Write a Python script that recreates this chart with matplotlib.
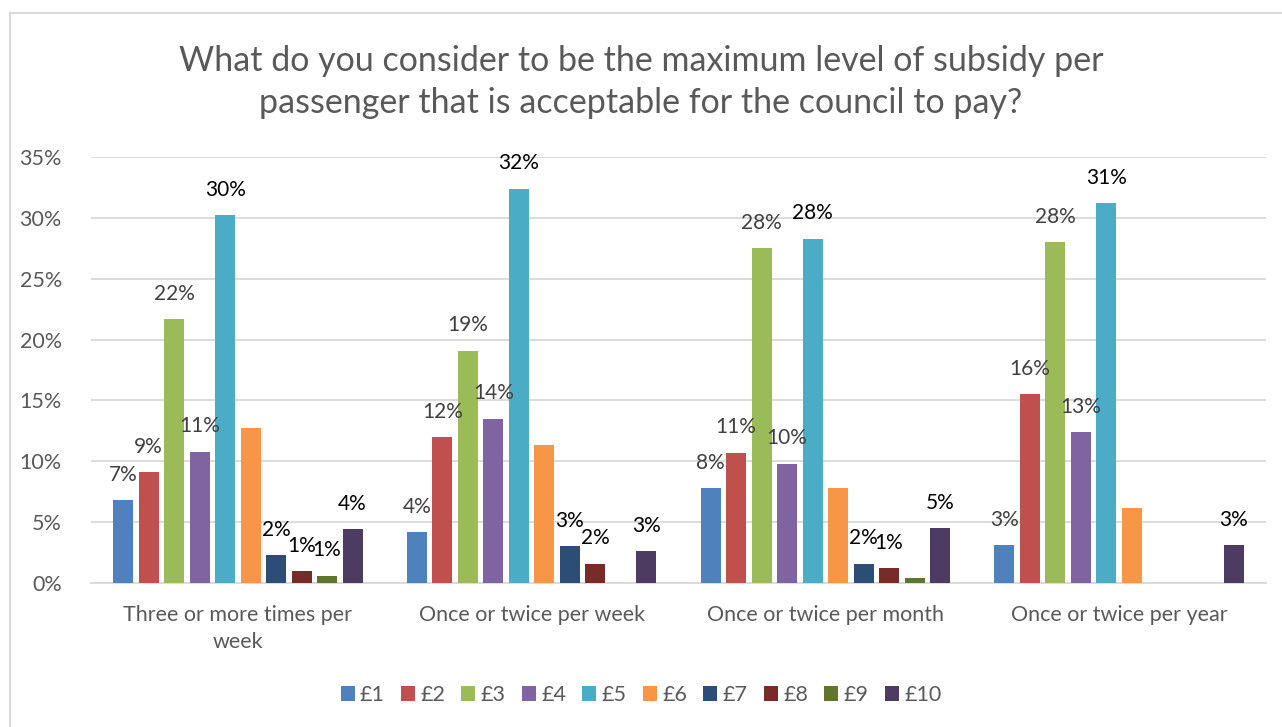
import numpy as np
import matplotlib.pyplot as plt
from matplotlib.lines import Line2D

plt.rcParams['font.family'] = ['Lato', 'DejaVu Sans']

#data
categories = ["Three or more times per\nweek", "Once or twice per week",
              "Once or twice per month", "Once or twice per year"]
series = ["£1", "£2", "£3", "£4", "£5", "£6", "£7", "£8", "£9", "£10"]
colors = ["#4f81bd", "#c0504d", "#9bbb59", "#8064a2", "#4bacc6",
          "#f79646", "#2c4d75", "#772c2a", "#5f7530", "#4d3b62"]

values = [  # one row per series, one column per category (%)
    [6.8, 4.2, 7.8, 3.1],
    [9.1, 12.0, 10.7, 15.5],
    [21.7, 19.1, 27.5, 28.0],
    [10.8, 13.5, 9.8, 12.4],
    [30.2, 32.4, 28.3, 31.2],
    [12.7, 11.3, 7.8, 6.2],
    [2.3, 3.0, 1.6, 0.0],
    [1.0, 1.6, 1.2, 0.0],
    [0.6, 0.0, 0.4, 0.0],
    [4.4, 2.6, 4.5, 3.1],
]
labels = [
    ["7%", "4%", "8%", "3%"],
    ["9%", "12%", "11%", "16%"],
    ["22%", "19%", "28%", "28%"],
    ["11%", "14%", "10%", "13%"],
    ["30%", "32%", "28%", "31%"],
    ["", "", "", ""],
    ["2%", "3%", "2%", ""],
    ["1%", "2%", "1%", ""],
    ["1%", "", "", ""],
    ["4%", "3%", "5%", "3%"],
]
label_dark = [False, False, False, False, True, True, True, True, True, True]

fig = plt.figure(figsize=(12.82, 7.27), dpi=100)
ax = fig.add_axes([91/1282, 1-583/727, (1266-91)/1282, (583-157)/727])

x = np.arange(len(categories))
slot = 0.0868
width = 0.068
for i, s in enumerate(series):
    pos = x + (i - 4.5) * slot
    ax.bar(pos, values[i], width, color=colors[i], label=s, zorder=3)
    for j in range(len(categories)):
        if labels[i][j]:
            ax.annotate(labels[i][j], (pos[j], values[i][j]), xytext=(0, 11),
                        textcoords="offset points", ha="center", va="bottom",
                        fontsize=15, color="#000000" if label_dark[i] else "#404040",
                        zorder=4)

ax.set_xlim(-0.5, 3.5)
ax.set_ylim(0, 35)
ax.set_yticks(np.arange(0, 36, 5))
ax.set_yticklabels([f"{v}%" for v in range(0, 36, 5)])
ax.set_xticks(x)
ax.set_xticklabels(categories, linespacing=1.45)
ax.tick_params(axis="both", length=0, labelsize=15.5, labelcolor="#595959")
ax.tick_params(axis="y", pad=21)
ax.tick_params(axis="x", pad=16)
ax.grid(axis="y", color="#d9d9d9", linewidth=1.3, zorder=0)
for sp in ["top", "right", "left"]:
    ax.spines[sp].set_visible(False)
ax.spines["bottom"].set_color("#d9d9d9")
ax.spines["bottom"].set_linewidth(1.3)

fig.text(0.5, 1-82/727, "What do you consider to be the maximum level of subsidy per\n"
         "passenger that is acceptable for the council to pay?",
         ha="center", va="center", fontsize=24.5, color="#595959", linespacing=1.4)

ax.legend(loc="center", bbox_to_anchor=(0.5, 1-695/727), bbox_transform=fig.transFigure,
          ncol=10, frameon=False, fontsize=15.5, handlelength=0.65, handleheight=0.65,
          handletextpad=0.25, columnspacing=0.75, labelcolor="#595959")

# chart area border (left and top)
fig.add_artist(Line2D([10/1282, 10/1282], [0, 1-13/727], transform=fig.transFigure,
                      color="#d9d9d9", linewidth=1.5))
fig.add_artist(Line2D([10/1282, 1], [1-13/727, 1-13/727], transform=fig.transFigure,
                      color="#d9d9d9", linewidth=1.5))

fig.savefig("out.png", dpi=100)
